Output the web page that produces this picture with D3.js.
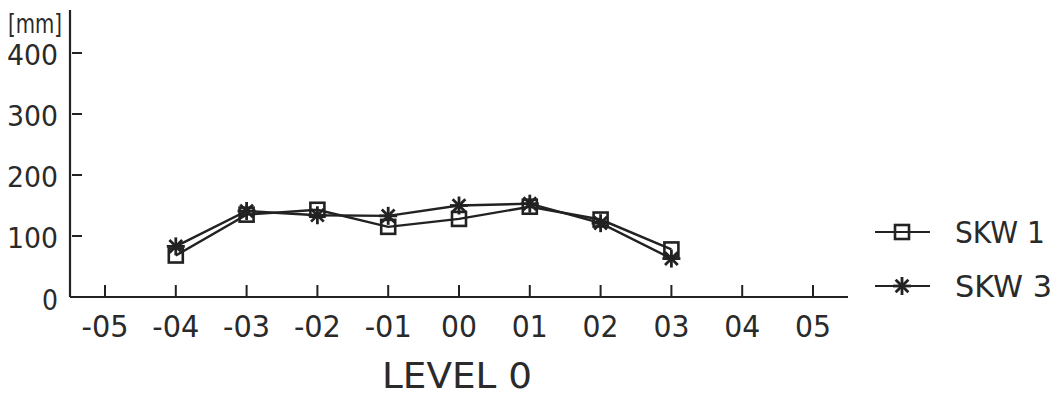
<!DOCTYPE html>
<html><head><meta charset="utf-8">
<script src="https://cdn.jsdelivr.net/npm/d3@7"></script>
<style>
html,body{margin:0;padding:0;background:#fff;}
text{font-family:"DejaVu Sans",sans-serif;fill:#2a2a2a;}
</style></head>
<body>
<svg id="c" width="1061" height="395"></svg>
<script>
const levels = [-5,-4,-3,-2,-1,0,1,2,3,4,5];
const levelLabels = ["-05","-04","-03","-02","-01","00","01","02","03","04","05"];
const dataLevels = [-4,-3,-2,-1,0,1,2,3];
const skw1 = [68,135,143,115,128,148,127,78];
const skw3 = [83,141,134,133,150,153,121,63];
const yTicks = [0,100,200,300,400];
const seriesNames = ["SKW 1","SKW 3"];

const svg = d3.select("#c");
const ink = "#222";
const x = d3.scaleLinear().domain([-5,5]).range([105,813]);
const y = d3.scaleLinear().domain([0,400]).range([297,53]);

// axes lines
svg.append("line").attr("x1",70).attr("x2",70).attr("y1",10).attr("y2",297)
  .attr("stroke",ink).attr("stroke-width",2.2);
svg.append("line").attr("x1",70).attr("x2",848).attr("y1",297).attr("y2",297)
  .attr("stroke",ink).attr("stroke-width",2.2);

// y ticks
svg.selectAll(".yt").data(yTicks.filter(d=>d>0)).enter().append("line")
  .attr("x1",72).attr("x2",82).attr("y1",d=>y(d)).attr("y2",d=>y(d))
  .attr("stroke",ink).attr("stroke-width",2);
svg.selectAll(".yl").data(yTicks).enter().append("text")
  .attr("x",58).attr("y",d=>y(d)+ (d===0?13:12))
  .attr("text-anchor","end").attr("font-size",28)
  .attr("textLength",d=>d===0?16:51).attr("lengthAdjust","spacingAndGlyphs")
  .text(d=>d);
svg.append("text").attr("x",8).attr("y",33).attr("font-size",26)
  .attr("textLength",54).attr("lengthAdjust","spacingAndGlyphs").text("[mm]");

// x ticks
svg.selectAll(".xt").data(levels).enter().append("line")
  .attr("x1",d=>x(d)).attr("x2",d=>x(d)).attr("y1",285).attr("y2",297)
  .attr("stroke",ink).attr("stroke-width",2);
svg.selectAll(".xl").data(levels).enter().append("text")
  .attr("x",d=>x(d)).attr("y",337).attr("text-anchor","middle").attr("font-size",30)
  .attr("textLength",(d,i)=>levelLabels[i].startsWith("-")?47:36).attr("lengthAdjust","spacingAndGlyphs")
  .text((d,i)=>levelLabels[i]);
svg.append("text").attr("x",457).attr("y",388).attr("text-anchor","middle")
  .attr("font-size",36).attr("textLength",150).attr("lengthAdjust","spacingAndGlyphs")
  .text("LEVEL 0");

const line = d3.line().x(d=>x(d[0])).y(d=>y(d[1]));
const s1 = dataLevels.map((l,i)=>[l,skw1[i]]);
const s3 = dataLevels.map((l,i)=>[l,skw3[i]]);
svg.append("path").attr("d",line(s1)).attr("fill","none").attr("stroke",ink).attr("stroke-width",2.4);
svg.append("path").attr("d",line(s3)).attr("fill","none").attr("stroke",ink).attr("stroke-width",2.4);

function square(g,cx,cy){
  g.append("rect").attr("x",cx-7).attr("y",cy-7).attr("width",14).attr("height",14)
   .attr("fill","none").attr("stroke",ink).attr("stroke-width",2.6);
}
function star(g,cx,cy){
  const r=9;
  for(let k=0;k<4;k++){
    const a=k*Math.PI/4;
    g.append("line").attr("x1",cx-r*Math.cos(a)).attr("y1",cy-r*Math.sin(a))
     .attr("x2",cx+r*Math.cos(a)).attr("y2",cy+r*Math.sin(a))
     .attr("stroke",ink).attr("stroke-width",2.8);
  }
}
const g = svg.append("g");
s1.forEach(d=>square(g,x(d[0]),y(d[1])));
s3.forEach(d=>star(g,x(d[0]),y(d[1])));

// legend
const legY=[232,286];
seriesNames.forEach((n,i)=>{
  svg.append("line").attr("x1",875).attr("x2",930).attr("y1",legY[i]).attr("y2",legY[i])
    .attr("stroke",ink).attr("stroke-width",2.2);
  if(i===0) square(svg,902,legY[i]); else star(svg,902,legY[i]);
  svg.append("text").attr("x",955).attr("y",legY[i]+11).attr("font-size",30)
    .attr("textLength",i===0?90:97).attr("lengthAdjust","spacingAndGlyphs").text(n);
});
</script>
</body></html>
